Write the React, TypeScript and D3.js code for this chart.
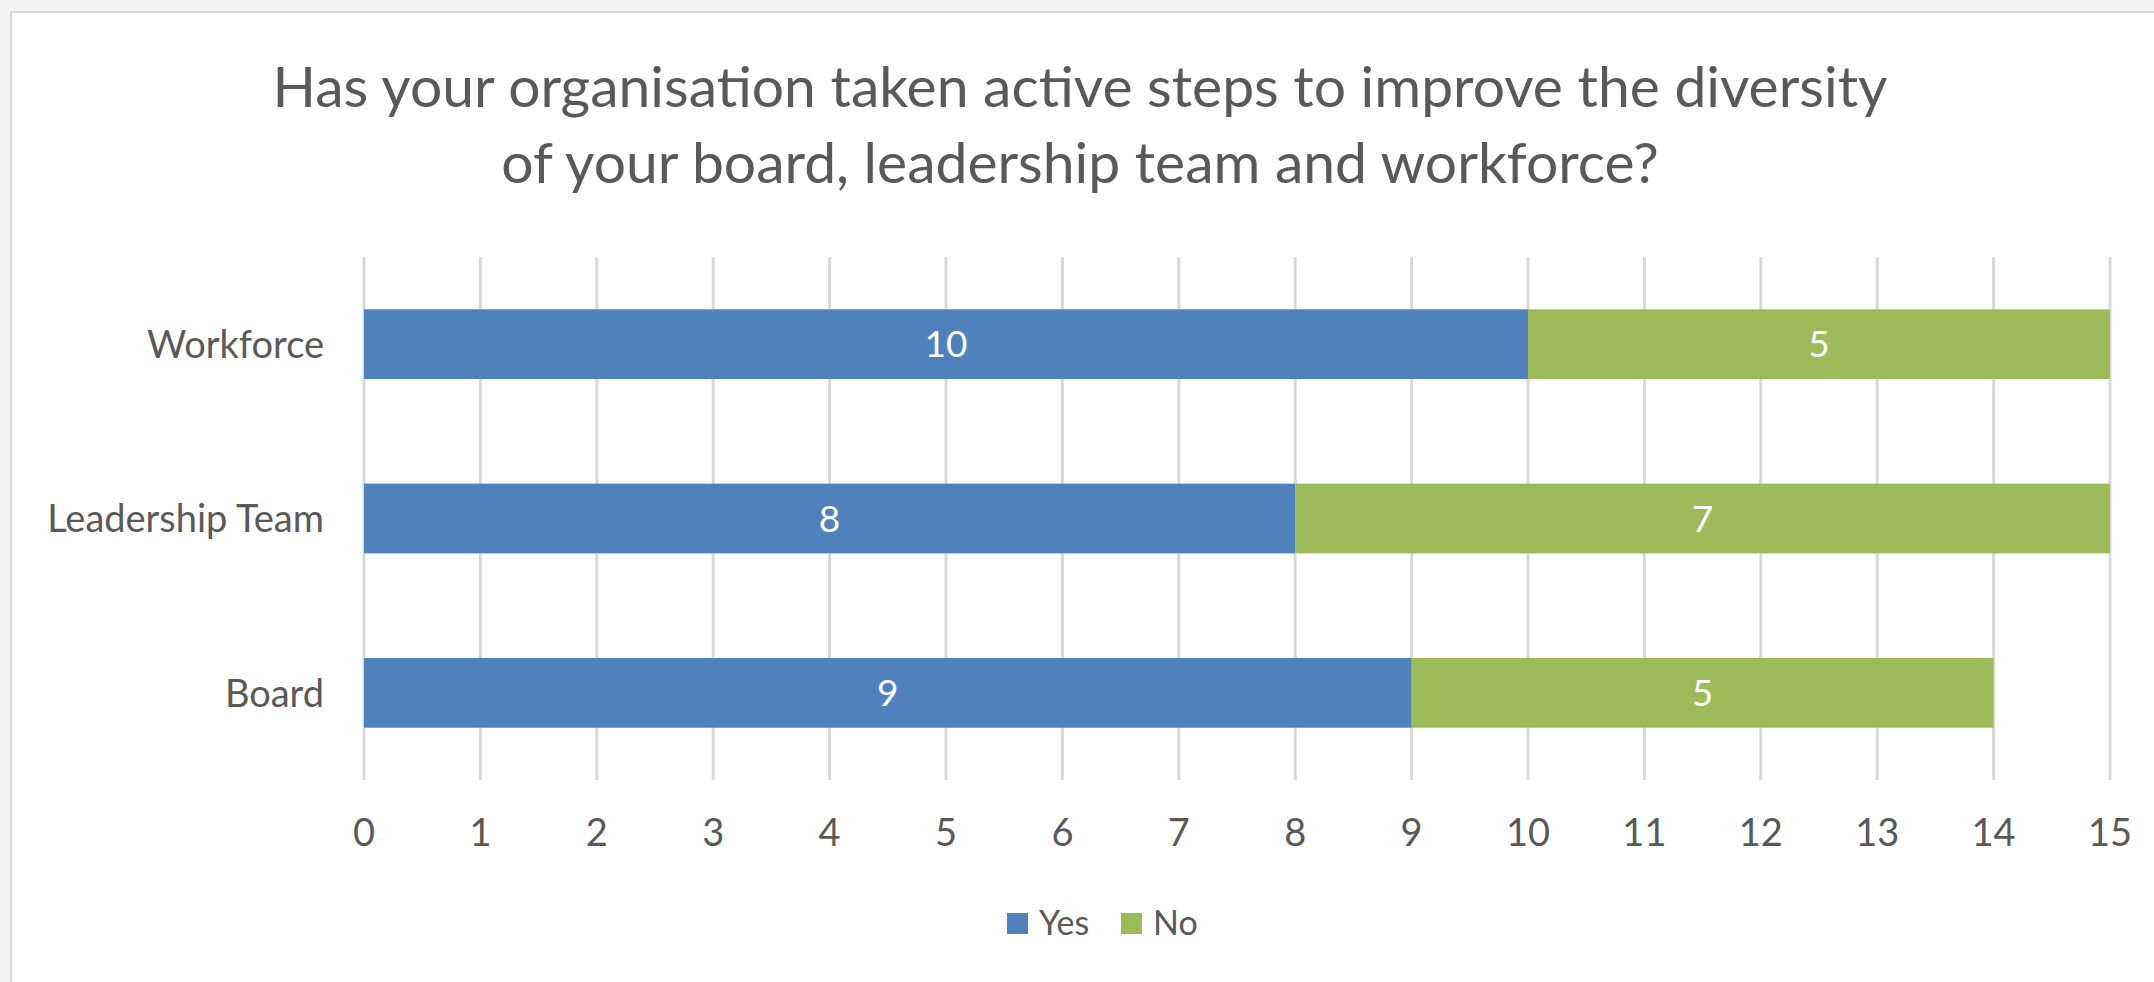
import React from 'react';
import * as d3 from 'd3';

const categories = ['Workforce', 'Leadership Team', 'Board'];
const yesValues = [10, 8, 9];
const noValues = [5, 7, 5];
const seriesNames = ['Yes', 'No'];
const seriesColors = ['#4f81bd', '#9bbb59'];
const xTicks = [0, 1, 2, 3, 4, 5, 6, 7, 8, 9, 10, 11, 12, 13, 14, 15];
const titleLines = [
  'Has your organisation taken active steps to improve the diversity',
  'of your board, leadership team and workforce?',
];

const W = 2154;
const H = 982;
const FONT = 'Lato, "Open Sans", sans-serif';
const TEXT = '#595959';

export default function App() {
  const plot = { left: 364, right: 2110, top: 257, bottom: 780 };

  const x = d3.scaleLinear().domain([0, 15]).range([plot.left, plot.right]);
  const y = d3
    .scaleBand<string>()
    .domain(categories)
    .range([plot.top, plot.bottom])
    .paddingInner(0.6)
    .paddingOuter(0.3);

  // stacked segments
  const rows = categories.map((c, i) => ({ cat: c, Yes: yesValues[i], No: noValues[i] }));
  const stack = d3.stack<any>().keys(seriesNames)(rows);

  return (
    <svg
      width={W}
      height={H}
      style={{ position: 'absolute', left: 0, top: 0, display: 'block' }}
      fontFamily={FONT}
    >
      <rect x={0} y={0} width={W} height={H} fill="#f2f2f2" />
      <rect x={11} y={12} width={W} height={H} fill="#ffffff" stroke="#d9d9d9" strokeWidth={2} />

      {/* title */}
      {titleLines.map((t, i) => (
        <text
          key={i}
          x={1080}
          y={107 + i * 76}
          textAnchor="middle"
          fontSize={57}
          fill={TEXT}
        >
          {t}
        </text>
      ))}

      {/* vertical gridlines */}
      {xTicks.map((t) => (
        <line
          key={t}
          x1={x(t)}
          x2={x(t)}
          y1={plot.top}
          y2={plot.bottom}
          stroke="#d9d9d9"
          strokeWidth={3}
        />
      ))}

      {/* bars */}
      {stack.map((layer, si) =>
        layer.map((d, i) => {
          const cat = categories[i];
          const x0 = x(d[0]);
          const x1 = x(d[1]);
          const yy = y(cat)!;
          const bw = y.bandwidth();
          return (
            <g key={`${si}-${i}`}>
              <rect x={x0} y={yy} width={x1 - x0} height={bw} fill={seriesColors[si]} />
              <text
                x={(x0 + x1) / 2}
                y={yy + bw / 2}
                dy="0.36em"
                textAnchor="middle"
                fontSize={37}
                fill="#ffffff"
              >
                {d[1] - d[0]}
              </text>
            </g>
          );
        })
      )}

      {/* category labels */}
      {categories.map((c) => (
        <text
          key={c}
          x={plot.left - 40}
          y={y(c)! + y.bandwidth() / 2}
          dy="0.36em"
          textAnchor="end"
          fontSize={38}
          fill={TEXT}
        >
          {c}
        </text>
      ))}

      {/* x tick labels */}
      {xTicks.map((t) => (
        <text key={t} x={x(t)} y={846} textAnchor="middle" fontSize={38} fill={TEXT}>
          {t}
        </text>
      ))}

      {/* legend */}
      <g transform="translate(1007,913)">
        {seriesNames.map((s, i) => (
          <g key={s} transform={`translate(${i * 114},0)`}>
            <rect x={0} y={0} width={21} height={21} fill={seriesColors[i]} />
            <text x={32} y={22} fontSize={34} fill={TEXT}>
              {s}
            </text>
          </g>
        ))}
      </g>
    </svg>
  );
}
